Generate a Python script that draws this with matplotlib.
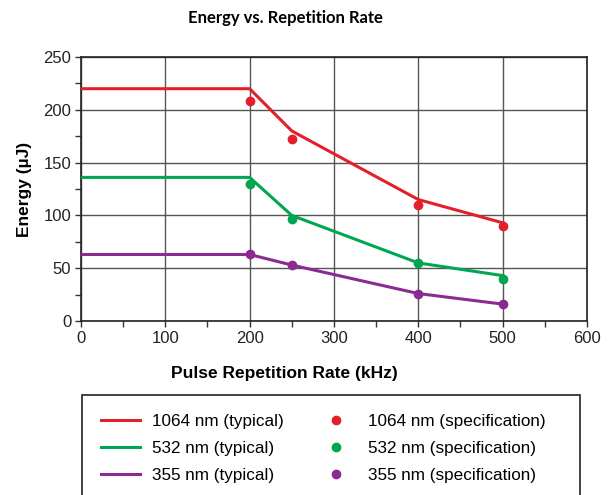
import matplotlib.pyplot as plt
from matplotlib.patches import Rectangle
import numpy as np

# data
rate_typ = [0, 200, 250, 400, 500]
e1064_typ = [220, 220, 180, 115, 93]
e532_typ = [136, 136, 100, 55, 43]
e355_typ = [63, 63, 53, 26, 16]

rate_spec = [200, 250, 400, 500]
e1064_spec = [208, 172, 110, 90]
e532_spec = [130, 97, 55, 40]
e355_spec = [63, 53, 26, 16]

red = '#e3202a'
green = '#00a651'
purple = '#8b2a91'

plt.rcParams['font.family'] = ['Liberation Sans', 'DejaVu Sans']

fig = plt.figure(figsize=(6.13, 4.95), dpi=100)
ax = fig.add_axes([0.132, 0.3515, 0.8256, 0.5333])

ax.plot(rate_typ, e1064_typ, color=red, lw=2.2, label='1064 nm (typical)', zorder=3)
ax.plot(rate_typ, e532_typ, color=green, lw=2.2, label='532 nm (typical)', zorder=3)
ax.plot(rate_typ, e355_typ, color=purple, lw=2.2, label='355 nm (typical)', zorder=3)
ax.plot(rate_spec, e1064_spec, 'o', color=red, ms=6, label='1064 nm (specification)', zorder=4)
ax.plot(rate_spec, e532_spec, 'o', color=green, ms=6, label='532 nm (specification)', zorder=4)
ax.plot(rate_spec, e355_spec, 'o', color=purple, ms=6, label='355 nm (specification)', zorder=4)

ax.set_xlim(0, 600)
ax.set_ylim(0, 250)
ax.set_xticks(np.arange(0, 601, 100))
ax.set_yticks(np.arange(0, 251, 50))
ax.set_xticks(np.arange(50, 600, 100), minor=True)
ax.set_yticks(np.arange(25, 250, 50), minor=True)
ax.tick_params(which='both', direction='out', length=4, width=1, color='#333333',
               labelsize=12, labelcolor='#222222', pad=3)
ax.grid(True, which='major', color='#555555', lw=1)
for s in ax.spines.values():
    s.set_color('#222222')
    s.set_linewidth(1.2)

ax.set_xlabel('Pulse Repetition Rate (kHz)', fontsize=12.5, fontweight='bold')
ax.xaxis.set_label_coords(0.403, -0.17)
ax.set_ylabel('Energy (µJ)', fontsize=12.5, fontweight='bold', labelpad=8)

fig.text(0.465, 0.963, 'Energy vs. Repetition Rate', ha='center', va='center',
         fontsize=12, fontweight='bold', family=['Lato', 'DejaVu Sans'])

# legend box runs past the bottom edge of the picture
fig.patches.append(Rectangle((82 / 613, -0.02), 498 / 613, 100 / 495 + 0.02,
                             transform=fig.transFigure, fill=False,
                             edgecolor='#222222', lw=1.2))
h, l = ax.get_legend_handles_labels()
leg = fig.legend(h, l, ncol=2, loc='upper left', bbox_to_anchor=(0.134, 0.202),
                 fontsize=12.3, frameon=False,
                 handlelength=2.3, columnspacing=1.9, labelspacing=0.72,
                 borderpad=1.1, handletextpad=0.7, borderaxespad=0)

fig.savefig('out.png', dpi=100)
